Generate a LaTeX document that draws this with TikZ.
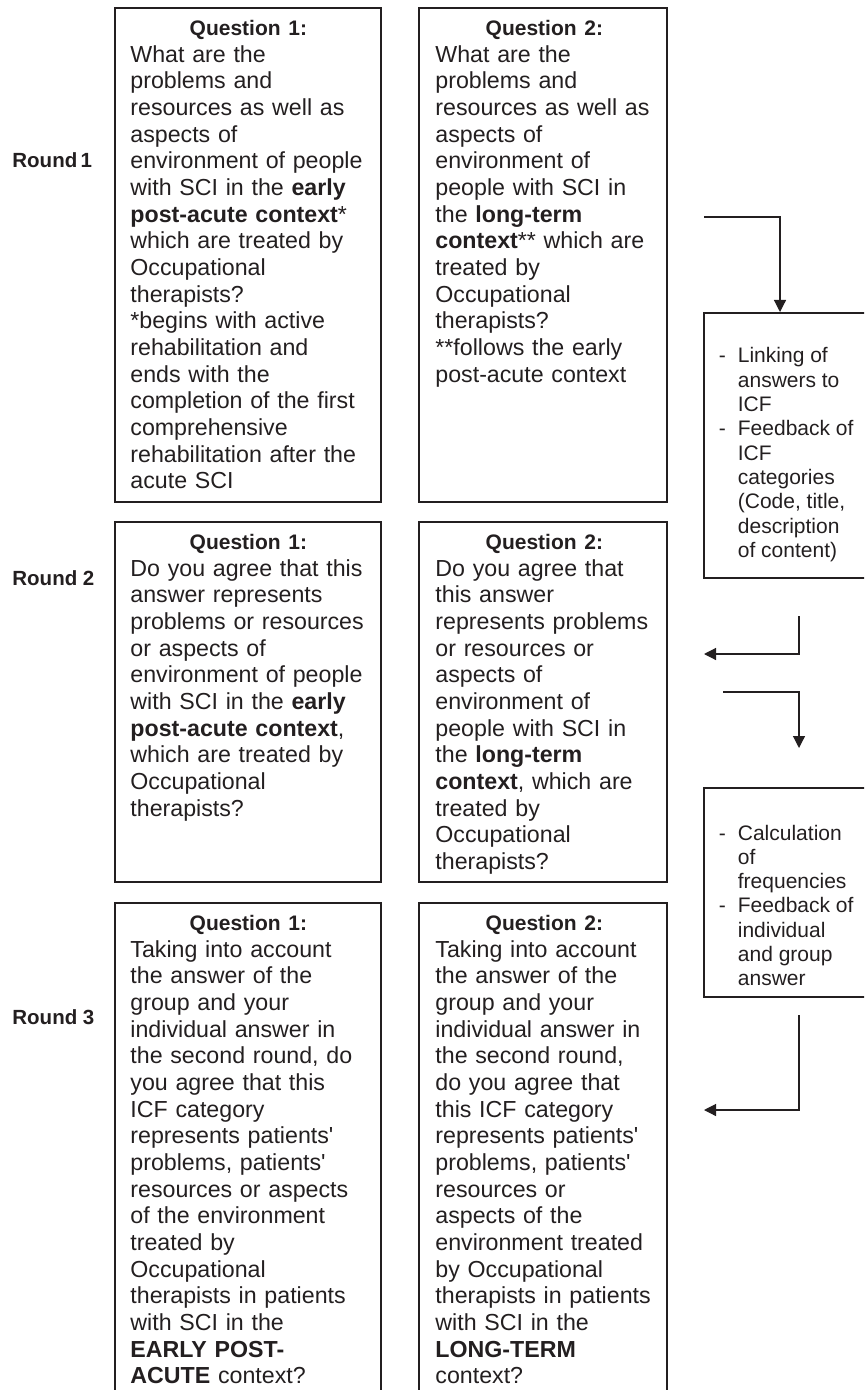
\documentclass[tikz,border=0pt]{standalone}
\usepackage{fontspec}
\setmainfont{Liberation Sans}
\usetikzlibrary{arrows.meta,positioning}
\definecolor{ink}{RGB}{35,31,32}
\newcommand\qfont{\fontsize{11.6pt}{13.33pt}\selectfont}
\newcommand\hdfont{\fontsize{10.5pt}{13.33pt}\selectfont\bfseries}
\newcommand\rdfont{\fontsize{10.25pt}{12pt}\selectfont\bfseries}
\newcommand\stfont{\fontsize{10.5pt}{12.15pt}\selectfont}
\newcommand\qhead[1]{{\centering\hdfont #1\par}}
\newcommand\ap{\textquotesingle}

\begin{document}
\begin{tikzpicture}[x=0.5pt,y=-0.5pt,
  qframe/.style={draw=ink,line width=1.15pt,anchor=north west,inner sep=0pt},
  wide/.style={minimum width=133pt},
  narrow/.style={minimum width=124pt},
  qtext/.style={anchor=north west,inner sep=0pt,align=left,text=ink,font=\qfont},
  steptext/.style={anchor=base west,inner sep=0pt,text=ink,font=\stfont},
  rlabel/.style={anchor=west,inner sep=0pt,text=ink,font=\rdfont},
  flow/.style={draw=ink,line width=0.6pt,-{Triangle[length=6pt,width=6pt]}}
  ]
    \useasboundingbox (0,0) rectangle (864,1390);
    \clip (0,0) rectangle (864,1390);

    \node[rlabel] (rd1) at (12,160) {Round\,1};
    \node[rlabel] (rd2) at (12,578) {Round 2};
    \node[rlabel] (rd3) at (12,1017) {Round 3};

    \node[qframe,wide,minimum height=247pt] (r1a) at (114,7) {};
    \node[qframe,narrow,minimum height=247pt] (r1b) at (418,7) {};
    \node[qframe,wide,minimum height=180pt] (r2a) at (114,521) {};
    \node[qframe,narrow,minimum height=180pt] (r2b) at (418,521) {};
    \node[qframe,wide,minimum height=259pt] (r3a) at (114,902) {};
    \node[qframe,narrow,minimum height=259pt] (r3b) at (418,902) {};
    \node[qframe,minimum width=100pt,minimum height=132.5pt] (s1) at (703,312) {};
    \node[qframe,minimum width=100pt,minimum height=104.5pt] (s2) at (703,787) {};

    \node[qtext,text width=118pt,below right=6.5pt and 8pt of r1a.north west] (r1at) {%
      \qhead{Question 1:}
      What are the\\ problems and\\ resources as well as\\ aspects of\\
      environment of people\\ with SCI in the \textbf{early}\\
      \textbf{post-acute context}*\\ which are treated by\\ Occupational\\
      therapists?\\{}*begins with active\\ rehabilitation and\\ ends with the\\
      completion of the first\\ comprehensive\\ rehabilitation after the\\ acute SCI};
    \node[qtext,text width=109pt,below right=6.5pt and 8.5pt of r1b.north west] (r1bt) {%
      \qhead{Question 2:}
      What are the\\ problems and\\ resources as well as\\ aspects of\\
      environment of\\ people with SCI in\\ the \textbf{long-term}\\
      \textbf{context}** which are\\ treated by\\ Occupational\\
      therapists?\\{}**follows the early\\ post-acute context};
    \node[qtext,text width=118pt,below right=6.5pt and 8pt of r2a.north west] (r2at) {%
      \qhead{Question 1:}
      Do you agree that this\\ answer represents\\ problems or resources\\ or aspects of\\
      environment of people\\ with SCI in the \textbf{early}\\
      \textbf{post-acute context},\\ which are treated by\\ Occupational\\ therapists?};
    \node[qtext,text width=109pt,below right=6.5pt and 8.5pt of r2b.north west] (r2bt) {%
      \qhead{Question 2:}
      Do you agree that\\ this answer\\ represents problems\\ or resources or\\
      aspects of\\ environment of\\ people with SCI in\\ the \textbf{long-term}\\
      \textbf{context}, which are\\ treated by\\ Occupational\\ therapists?};
    \node[qtext,text width=118pt,below right=6.5pt and 8pt of r3a.north west] (r3at) {%
      \qhead{Question 1:}
      Taking into account\\ the answer of the\\ group and your\\ individual answer in\\
      the second round, do\\ you agree that this\\ ICF category\\ represents patients\ap\\
      problems, patients\ap\\ resources or aspects\\ of the environment\\ treated by\\
      Occupational\\ therapists in patients\\ with SCI in the\\
      \textbf{EARLY POST-}\\ \textbf{ACUTE} context?};
    \node[qtext,text width=109pt,below right=6.5pt and 8.5pt of r3b.north west] (r3bt) {%
      \qhead{Question 2:}
      Taking into account\\ the answer of the\\ group and your\\ individual answer in\\
      the second round,\\ do you agree that\\ this ICF category\\ represents patients\ap\\
      problems, patients\ap\\ resources or\\ aspects of the\\ environment treated\\
      by Occupational\\ therapists in patients\\ with SCI in the\\
      \textbf{LONG-TERM}\\ context?};

    \node[steptext] (s1t) at (718.5,363) {\begin{tabular}[t]{@{}l@{\hspace{6pt}}l@{}}
      - & Linking of\\ & answers to\\ & ICF\\
      - & Feedback of\\ & ICF\\ & categories\\ & (Code, title,\\ & description\\ & of content)
      \end{tabular}};
    \node[steptext] (s2t) at (718.5,840) {\begin{tabular}[t]{@{}l@{\hspace{6pt}}l@{}}
      - & Calculation\\ & of\\ & frequencies\\
      - & Feedback of\\ & individual\\ & and group\\ & answer
      \end{tabular}};

    \coordinate (a1s) at (704,217);
    \coordinate (a2s) at (799,616);
    \coordinate (a2e) at (704,654);
    \coordinate (a3s) at (723,692);
    \coordinate (a3e) at (799,748);
    \coordinate (a4s) at (799,1015);
    \coordinate (a4e) at (704,1110);
    \draw[flow] (a1s) -| ([xshift=38.5pt]s1.north west);
    \draw[flow] (a2s) |- (a2e);
    \draw[flow] (a3s) -| (a3e);
    \draw[flow] (a4s) |- (a4e);
\end{tikzpicture}
\end{document}
